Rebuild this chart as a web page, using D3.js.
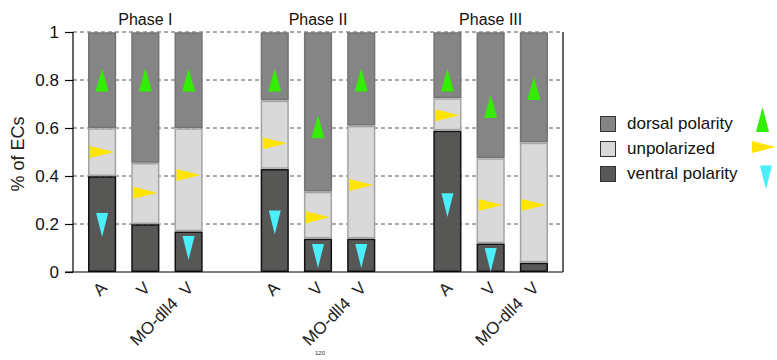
<!DOCTYPE html>
<html>
<head>
<meta charset="utf-8">
<script src="https://cdn.jsdelivr.net/npm/d3@7"></script>
<style>
  body { margin: 0; background: #fff; }
  svg { display: block; font-family: "Liberation Sans", Arial, sans-serif; }
</style>
</head>
<body>
<svg id="chart" width="777" height="360"></svg>
<script>
// stacked polarity fractions, one entry per phase x condition
const phases = ["Phase I", "Phase II", "Phase III"];
const conditions = ["A", "V", "MO-dll4 V"];
const ventral     = [0.40, 0.20, 0.17, 0.43, 0.14, 0.14, 0.59, 0.12, 0.04];
const unpolarized = [0.20, 0.255, 0.43, 0.285, 0.195, 0.47, 0.135, 0.355, 0.50];
const dorsal      = [0.40, 0.545, 0.40, 0.285, 0.665, 0.39, 0.275, 0.525, 0.46];

// arrow marker positions (value on y axis), null = no arrow drawn
const dorsalArrow  = [0.80, 0.80, 0.80, 0.80, 0.605, 0.80, 0.80, 0.69, 0.765];
const unpolArrow   = [0.50, 0.33, 0.404, 0.536, 0.228, 0.3625, 0.653, 0.279, 0.279];
const ventralArrow = [0.196, null, 0.10, 0.206, 0.067, 0.067, 0.278, 0.05, null];

const yTicks = [0, 0.2, 0.4, 0.6, 0.8, 1];
const legendLabels = ["dorsal polarity", "unpolarized", "ventral polarity"];

const colors = { dorsal: "#858585", unpolarized: "#d9d9d9", ventral: "#575755" };
const strokes = { dorsal: "#747474", unpolarized: "#a4a4a4", ventral: "#111" };
const arrowColor = { dorsal: "#33ee00", unpolarized: "#ffe400", ventral: "#4aeefc" };
const arrowPath = {
  dorsal: "M0,-11.5L6.5,11.5L-6.5,11.5Z",
  unpolarized: "M12,0L-12,-6L-12,6Z",
  ventral: "M0,12L-6,-12L6,-12Z"
};

const rows = [];
phases.forEach((p, i) => conditions.forEach((c, j) => {
  const k = i * 3 + j;
  rows.push({ phase: p, cond: c, ventral: ventral[k], unpolarized: unpolarized[k], dorsal: dorsal[k],
    arrows: { dorsal: dorsalArrow[k], unpolarized: unpolArrow[k], ventral: ventralArrow[k] } });
}));

const svg = d3.select("#chart");
const plotLeft = 73, plotRight = 563, plotTop = 32, plotBottom = 272;

const y = d3.scaleLinear().domain([0, 1]).range([plotBottom, plotTop]);
const x0 = d3.scaleBand().domain(phases).range([plotLeft, plotRight]).paddingInner(0.336).paddingOuter(0.087);
const x1 = d3.scaleBand().domain(conditions).range([0, x0.bandwidth()]).paddingInner(0.349).paddingOuter(0);

// gridlines
svg.append("g")
  .selectAll("line")
  .data(yTicks.filter(d => d > 0))
  .join("line")
    .attr("x1", plotLeft).attr("x2", plotRight)
    .attr("y1", d => y(d)).attr("y2", d => y(d))
    .attr("stroke", "#555").attr("stroke-width", 1)
    .attr("stroke-dasharray", "4,3");

// stacked bars
const keys = ["ventral", "unpolarized", "dorsal"];
const series = d3.stack().keys(keys)(rows);

const bars = svg.append("g");
series.forEach(s => {
  bars.selectAll(null)
    .data(s)
    .join("rect")
      .attr("x", d => x0(d.data.phase) + x1(d.data.cond) + 0.75)
      .attr("y", d => y(d[1]) + 1)
      .attr("width", x1.bandwidth() - 1.5)
      .attr("height", d => Math.max(0, y(d[0]) - y(d[1]) - 1.75))
      .attr("fill", colors[s.key])
      .attr("stroke", strokes[s.key])
      .attr("stroke-width", 1.5);
});

// arrows
const arrows = svg.append("g");
keys.forEach(k => {
  arrows.selectAll(null)
    .data(rows.filter(d => d.arrows[k] != null))
    .join("path")
      .attr("d", arrowPath[k])
      .attr("fill", arrowColor[k])
      .attr("transform", d => `translate(${x0(d.phase) + x1(d.cond) + x1.bandwidth() / 2},${y(d.arrows[k])})`);
});

// axes
const yAxis = svg.append("g")
  .attr("transform", `translate(${plotLeft},0)`)
  .call(d3.axisLeft(y).tickValues(yTicks).tickFormat(d => d === 0 || d === 1 ? d : d3.format(".1f")(d))
    .tickSize(8).tickPadding(6));
yAxis.select(".domain").attr("d", `M0,${plotTop}V${plotBottom}`).attr("stroke", "#000").attr("stroke-width", 1.2);
yAxis.selectAll(".tick line").attr("stroke", "#000").attr("stroke-width", 1.2);
yAxis.selectAll(".tick text").attr("font-size", 17).attr("fill", "#111")
  .attr("font-family", "Liberation Sans, Arial, sans-serif");

svg.append("line")
  .attr("x1", plotLeft - 8).attr("x2", plotRight)
  .attr("y1", plotBottom).attr("y2", plotBottom)
  .attr("stroke", "#000").attr("stroke-width", 1.2);
svg.append("line")
  .attr("x1", plotRight).attr("x2", plotRight)
  .attr("y1", plotTop).attr("y2", plotBottom)
  .attr("stroke", "#000").attr("stroke-width", 1.2);

// x labels
svg.append("g")
  .selectAll("text")
  .data(rows)
  .join("text")
    .attr("transform", d => `translate(${x0(d.phase) + x1(d.cond) + x1.bandwidth() / 2 + 6},289) rotate(-45)`)
    .attr("text-anchor", "end")
    .attr("font-size", 17)
    .attr("word-spacing", 6)
    .attr("fill", "#222")
    .text(d => d.cond);

// phase titles
svg.append("g")
  .selectAll("text")
  .data(phases)
  .join("text")
    .attr("x", d => x0(d) + x0.bandwidth() / 2)
    .attr("y", 25)
    .attr("text-anchor", "middle")
    .attr("font-size", 16)
    .attr("fill", "#111")
    .text(d => d);

// y label
svg.append("text")
  .attr("transform", `translate(24,${(plotTop + plotBottom) / 2 + 2}) rotate(-90)`)
  .attr("text-anchor", "middle")
  .attr("font-size", 18)
  .attr("fill", "#222")
  .text("% of ECs");

// legend
const legendKeys = ["dorsal", "unpolarized", "ventral"];
const legend = svg.append("g").attr("transform", "translate(600,116)");
legendKeys.forEach((k, i) => {
  const g = legend.append("g").attr("transform", `translate(0,${i * 25})`);
  g.append("rect").attr("x", 0.5).attr("y", 0.5).attr("width", 15).attr("height", 15)
    .attr("fill", colors[k]).attr("stroke", "#333").attr("stroke-width", 1);
  g.append("text").attr("x", 27).attr("y", 13).attr("font-size", 17).attr("fill", "#111").text(legendLabels[i]);
});
legend.append("path").attr("d", "M0,-12.5L6.5,12.5L-6.5,12.5Z").attr("fill", arrowColor.dorsal)
  .attr("transform", "translate(162.5,3.5)");
legend.append("path").attr("d", "M12,0L-12,-6L-12,6Z").attr("fill", arrowColor.unpolarized)
  .attr("transform", "translate(164,31)");
legend.append("path").attr("d", "M0,12L-6,-12L6,-12Z").attr("fill", arrowColor.ventral)
  .attr("transform", "translate(166,61.5)");

// page number
svg.append("text").attr("x", 320).attr("y", 355).attr("text-anchor", "middle")
  .attr("font-size", 6).attr("fill", "#333").text("120");
</script>
</body>
</html>
